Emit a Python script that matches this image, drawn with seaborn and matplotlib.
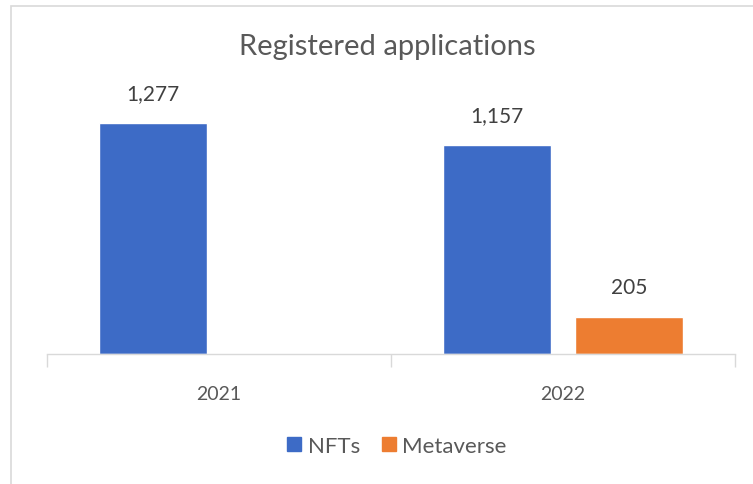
import matplotlib
matplotlib.use("Agg")
import matplotlib.pyplot as plt
import seaborn as sns
import pandas as pd
from matplotlib.patches import Rectangle
from matplotlib.lines import Line2D

years = ["2021", "2022"]
series = ["NFTs", "Metaverse"]
nfts = [1277, 1157]
metaverse = [None, 205]
colors = {"NFTs": "#3D6BC6", "Metaverse": "#ED7D31"}

rows = []
for i, y in enumerate(years):
    rows.append({"year": y, "series": "NFTs", "value": nfts[i]})
    if metaverse[i] is not None:
        rows.append({"year": y, "series": "Metaverse", "value": metaverse[i]})
df = pd.DataFrame(rows)

sns.set_theme(style="white")
plt.rcParams['font.family'] = ['Lato', 'DejaVu Sans']

W, H = 753, 485
fig = plt.figure(figsize=(W / 100, H / 100), dpi=100)
fig.patch.set_facecolor("white")

# chart border
fig.add_artist(Rectangle((11 / W, -0.01), 1.0, 1 - 7 / H + 0.01, transform=fig.transFigure,
                         fill=False, edgecolor="#D9D9D9", linewidth=1.2))

left, right = 47 / W, 735 / W
bottom = 1 - 355 / H
top = 1 - 80 / H
ax = fig.add_axes([left, bottom, right - left, top - bottom])

sns.barplot(data=df, x="year", y="value", hue="series", hue_order=series, order=years,
            palette=colors, width=0.764, gap=0.176, ax=ax, legend=False,
            saturation=1, errorbar=None)

ax.set_xlim(-0.5, 1.5)
ax.set_ylim(0, 275 / 0.1809)
for s in ["top", "right", "left"]:
    ax.spines[s].set_visible(False)
ax.spines["bottom"].set_color("#D9D9D9")
ax.spines["bottom"].set_linewidth(1.0)
ax.set_yticks([])
ax.set_xlabel("")
ax.set_ylabel("")
ax.tick_params(axis="x", which="major", length=0, pad=22, labelsize=14, labelcolor="#595959")
ax.set_xticks([-0.5, 0.5, 1.5], minor=True)
ax.tick_params(axis="x", which="minor", bottom=True, length=9, color="#D9D9D9", width=1.0,
               direction="out")

for cont in ax.containers:
    for bar in cont:
        h = bar.get_height()
        if h and h == h:
            ax.annotate(f"{int(round(h)):,}", (bar.get_x() + bar.get_width() / 2, h),
                        xytext=(0, 14), textcoords="offset points", ha="center", va="bottom",
                        fontsize=15, color="#404040")

fig.text(387 / W, 1 - 47 / H, "Registered applications", ha="center", va="center",
         fontsize=21, color="#595959")

handles = [Line2D([0], [0], marker="s", linestyle="none", markersize=10,
                  markerfacecolor=colors[s], markeredgecolor=colors[s]) for s in series]
fig.legend(handles, series, loc="center", bbox_to_anchor=(395 / W, 1 - 447 / H),
           ncol=2, frameon=False, fontsize=16, labelcolor="#595959",
           handletextpad=0.1, columnspacing=0.8, handlelength=1.0)

fig.savefig("out.png", dpi=100, facecolor="white")
